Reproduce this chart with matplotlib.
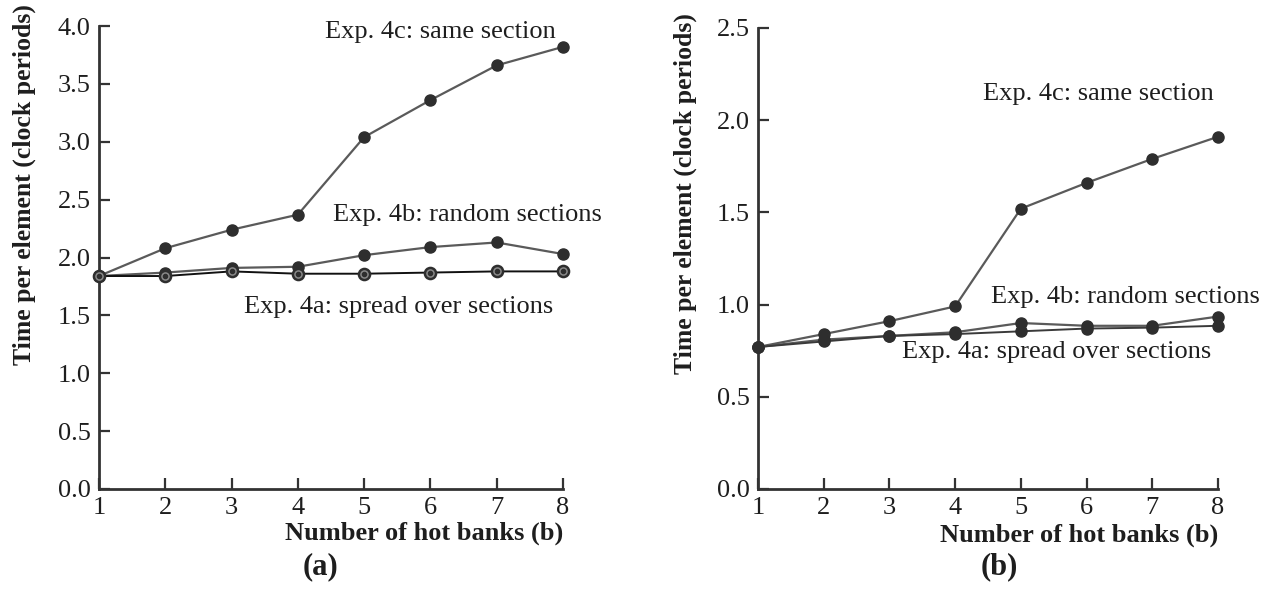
import matplotlib
matplotlib.use("Agg")
import matplotlib.pyplot as plt

plt.rcParams['font.family'] = ['Liberation Serif', 'DejaVu Serif']

banks = [1, 2, 3, 4, 5, 6, 7, 8]

# panel (a)
a_same = [1.84, 2.08, 2.24, 2.37, 3.04, 3.36, 3.66, 3.82]
a_random = [1.84, 1.87, 1.91, 1.92, 2.02, 2.09, 2.13, 2.03]
a_spread = [1.84, 1.84, 1.88, 1.86, 1.86, 1.87, 1.88, 1.88]

# panel (b)
b_same = [0.77, 0.84, 0.91, 0.99, 1.52, 1.66, 1.79, 1.91]
b_random = [0.77, 0.81, 0.83, 0.85, 0.90, 0.885, 0.885, 0.935]
b_spread = [0.77, 0.80, 0.83, 0.84, 0.855, 0.87, 0.875, 0.885]

a_yticks = [0.0, 0.5, 1.0, 1.5, 2.0, 2.5, 3.0, 3.5, 4.0]
b_yticks = [0.0, 0.5, 1.0, 1.5, 2.0, 2.5]

line_col = '#5a5a5a'
mark_col = '#2e2e2e'
text_col = '#1e1e1e'

fig = plt.figure(figsize=(12.72, 5.89), dpi=100)
ax1 = fig.add_axes([0.0778, 0.1698, 0.3648, 0.786])
ax2 = fig.add_axes([0.5959, 0.1698, 0.3616, 0.7827])


def style_axis(ax, yticks, ylim):
    ax.set_xlim(1, 8)
    ax.set_ylim(0, ylim)
    ax.set_xticks(banks)
    ax.set_yticks(yticks)
    ax.set_yticklabels([f"{t:.1f}" for t in yticks])
    for s in ['top', 'right']:
        ax.spines[s].set_visible(False)
    for s in ['left', 'bottom']:
        ax.spines[s].set_linewidth(2.0)
        ax.spines[s].set_color('#333333')
    ax.tick_params(direction='in', length=8, width=1.6, color='#333333',
                   labelsize=19, pad=6, labelcolor=text_col)
    ax.set_xlabel("Number of hot banks (b)", fontsize=19, fontweight='bold',
                  ha='right', va='center', color=text_col)
    ax.set_ylabel("Time per element (clock periods)", fontsize=18.5,
                  fontweight='bold', va='center', color=text_col)


def draw(ax, same, rand, spread, spread_col, ring=False):
    ax.plot(banks, same, color=line_col, lw=1.6, marker='o', ms=8,
            mfc=mark_col, mec=mark_col, clip_on=False, zorder=3)
    ax.plot(banks, rand, color=line_col, lw=1.6, marker='o', ms=8,
            mfc=mark_col, mec=mark_col, clip_on=False, zorder=3)
    if ring:
        ax.plot(banks, spread, color=spread_col, lw=1.4, marker='o', ms=8,
                mfc='#8a8a8a', mec=mark_col, mew=1.8, clip_on=False, zorder=4)
        ax.plot(banks, spread, ls='none', marker='o', ms=3,
                mfc=mark_col, mec=mark_col, clip_on=False, zorder=5)
    else:
        ax.plot(banks, spread, color=spread_col, lw=1.4, marker='o', ms=8,
                mfc=mark_col, mec=mark_col, clip_on=False, zorder=4)


style_axis(ax1, a_yticks, 4.0)
style_axis(ax2, b_yticks, 2.5)

draw(ax1, a_same, a_random, a_spread, '#111111', ring=True)
draw(ax2, b_same, b_random, b_spread, '#3a3a3a')

ax1.yaxis.set_label_coords(-0.162, 0.657)
ax2.yaxis.set_label_coords(-0.159, 0.64)
ax1.xaxis.set_label_coords(1.0, -0.095)
ax2.xaxis.set_label_coords(1.0, -0.10)

tk = dict(fontsize=19, color=text_col, va='center', ha='left')
ax1.text(4.41, 3.95, "Exp. 4c: same section", **tk)
ax1.text(4.53, 2.37, "Exp. 4b: random sections", **tk)
ax1.text(3.19, 1.57, "Exp. 4a: spread over sections", **tk)

ax2.text(4.42, 2.14, "Exp. 4c: same section", **tk)
ax2.text(4.55, 1.04, "Exp. 4b: random sections", **tk)
ax2.text(3.19, 0.743, "Exp. 4a: spread over sections", **tk)

fig.text(320 / 1272, 1 - 567 / 589, "(a)", fontsize=22, fontweight='bold',
         ha='center', va='center', color=text_col)
fig.text(999 / 1272, 1 - 567 / 589, "(b)", fontsize=22, fontweight='bold',
         ha='center', va='center', color=text_col)

fig.savefig("out.png", dpi=100, facecolor='white')
